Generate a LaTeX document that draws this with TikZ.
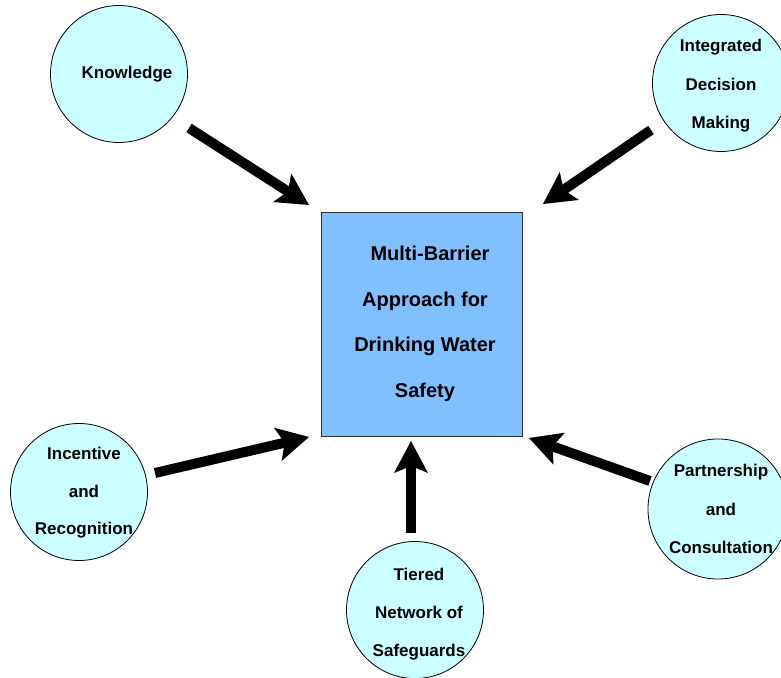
\documentclass[tikz,border=0pt]{standalone}
\usepackage{fontspec}
\setmainfont{Liberation Sans}
\usetikzlibrary{arrows.meta}
\definecolor{circfill}{RGB}{204,255,255}
\definecolor{boxfill}{RGB}{128,192,255}
\begin{document}
\begin{tikzpicture}[x=1pt,y=-1pt,
  bubble/.style={circle, draw=black, line width=0.8pt, fill=circfill, minimum size=137pt, inner sep=0pt},
  lbl/.style={font=\fontsize{17}{38}\selectfont\bfseries, align=center, inner sep=0pt},
  mainbox/.style={rectangle, draw=black!80, line width=0.8pt, fill=boxfill, minimum width=201pt, minimum height=224pt, inner sep=0pt, align=center, font=\fontsize{20}{45.5}\selectfont\bfseries},
  bigarrow/.style={line width=10pt, -{Stealth[length=32pt,width=34pt,inset=7pt,line width=0pt]}}
]
\useasboundingbox (0,0) rectangle (781,677);
\fill[white] (0,0) rectangle (781,677);

% central box
\node[mainbox] (box) at (421.5,324) {\hspace*{17pt}Multi-Barrier\\\hspace*{7pt}Approach for\\\hspace*{7pt}Drinking Water\\\hspace*{7pt}Safety};

% circles
\node[bubble] (k) at (119,74) {};
\node[bubble] (idm) at (721,83) {};
\node[bubble] (inc) at (79,492) {};
\node[bubble] (tier) at (415,610) {};
\node[bubble, minimum size=140pt] (part) at (718,509) {};

% labels
\node[lbl, anchor=base] (kt) at (127,78) {Knowledge};
\node[lbl, font=\fontsize{17}{38.5}\selectfont\bfseries] (idmt) at (721,86) {Integrated\\Decision\\Making};
\node[lbl, font=\fontsize{17}{37.5}\selectfont\bfseries] (inct) at (84,493) {Incentive\\and\\Recognition};
\node[lbl, font=\fontsize{17}{38}\selectfont\bfseries] (tiert) at (419,614) {Tiered\\Network of\\Safeguards};
\node[lbl, font=\fontsize{17}{38.5}\selectfont\bfseries] (partt) at (721,509) {Partnership\\and\\Consultation};

% arrow end points
\coordinate (ks) at (189,128);
\coordinate (ke) at (309,205);
\coordinate (is) at (651,130);
\coordinate (ie) at (543,204);
\coordinate (ns) at (155,473);
\coordinate (ne) at (309,437);
\coordinate (ts) at (411,533);
\coordinate (te) at (411,441);
\coordinate (ps) at (650,481);
\coordinate (pe) at (529,438);

\draw[bigarrow] (ks) -- (ke);
\draw[bigarrow] (is) -- (ie);
\draw[bigarrow] (ns) -- (ne);
\draw[bigarrow] (ts) -- (te);
\draw[bigarrow] (ps) -- (pe);
\end{tikzpicture}
\end{document}
